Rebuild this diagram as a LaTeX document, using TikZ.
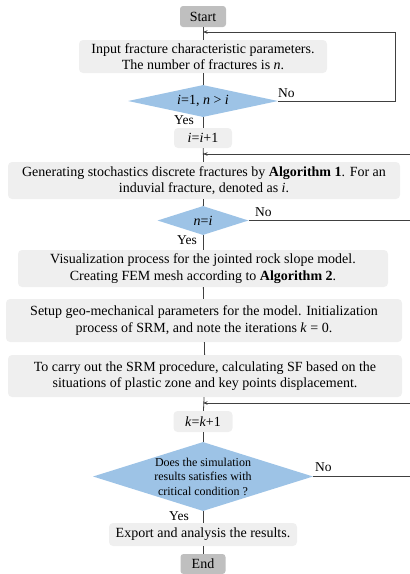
\documentclass[tikz,border=0pt]{standalone}
\usepackage{fontspec}
\setmainfont{Liberation Serif}
\usetikzlibrary{shapes.geometric,arrows.meta}
\definecolor{termfill}{HTML}{BFBFBF}
\definecolor{boxfill}{HTML}{EFEFEF}
\definecolor{decfill}{HTML}{9DC3E6}
\definecolor{linec}{HTML}{404040}
\tikzset{
  term/.style={draw=none,fill=termfill,rounded corners=3pt,inner sep=0pt,font=\rmfamily\fontsize{14}{16}\selectfont},
  procbox/.style={draw=none,fill=boxfill,rounded corners=4pt,inner sep=0pt,align=center,font=\rmfamily\fontsize{14}{16.3}\selectfont},
  decision/.style={diamond,draw=none,fill=decfill,inner sep=0pt,align=center},
  conn/.style={draw=linec,line width=0.8pt},
  arr/.style={conn,-{Stealth[length=4.5pt,width=3.5pt]}},
  lbl/.style={inner sep=0pt,font=\rmfamily\fontsize{13.5}{15}\selectfont}
}
\begin{document}
\begin{tikzpicture}[x=1pt,y=-1pt]
\useasboundingbox (0,0) rectangle (410,574);
\node[term,minimum width=46pt,minimum height=21pt] (start) at (203,16.5) {Start};
\node[procbox,minimum width=248pt,minimum height=33pt] (b1) at (203,56.5) {Input fracture characteristic parameters.\\The number of fractures is \textit{n}.};
\node[decision,minimum width=150pt,minimum height=32pt,aspect=4.7,font=\rmfamily\fontsize{14}{16}\selectfont] (d1) at (203,101) {\textit{i}=1, \textit{n} {\textgreater} \textit{i}};
\node[procbox,minimum width=58pt,minimum height=20pt] (i1) at (203,138) {\textit{i}=\textit{i}+1};
\node[procbox,minimum width=392pt,minimum height=37pt] (b2) at (204,180.5) {Generating stochastics discrete fractures by \textbf{Algorithm 1}. For an\\induvial fracture, denoted as \textit{i}.};
\node[decision,minimum width=91pt,minimum height=29pt,aspect=3.1,font=\rmfamily\fontsize{14}{16}\selectfont] (d2) at (203,220.5) {\textit{n}=\textit{i}};
\node[procbox,minimum width=370pt,minimum height=37pt] (b3) at (203,268.5) {Visualization process for the jointed rock slope model.\\Creating FEM mesh according to \textbf{Algorithm 2}.};
\node[procbox,minimum width=396pt,minimum height=43pt] (b4) at (204,320.5) {Setup geo-mechanical parameters for the model. Initialization\\process of SRM, and note the iterations \textit{k} = 0.};
\node[procbox,minimum width=394pt,minimum height=42pt] (b5) at (205,376) {To carry out the SRM procedure, calculating SF based on the\\situations of plastic zone and key points displacement.};
\node[procbox,minimum width=59pt,minimum height=21pt] (k1) at (203,421.5) {\textit{k}=\textit{k}+1};
\node[decision,minimum width=220pt,minimum height=69pt,aspect=3.2,font=\rmfamily\fontsize{12}{14.5}\selectfont] (d3) at (203,476.5) {Does the simulation\\results satisfies with\\critical condition ?};
\node[procbox,minimum width=188pt,minimum height=23pt] (b6) at (203,534.5) {Export and analysis the results.};
\node[term,minimum width=45pt,minimum height=20pt] (end) at (203,564) {End};
% junction points
\coordinate (j1) at (203,32);
\coordinate (j2) at (203,154);
\coordinate (j3) at (203,403);
\coordinate (r1) at (395,32);
\coordinate (e2) at (410,154);
\coordinate (e3) at (410,220.5);
\coordinate (e4) at (410,403);
\coordinate (e5) at (410,476.5);
% spine
\draw[conn] (start) -- (b1);
\draw[conn] (b1) -- (d1);
\draw[conn] (d1) -- (i1);
\draw[conn] (i1) -- (b2);
\draw[conn] (b2) -- (d2);
\draw[conn] (d2) -- (b3);
\draw[conn] (b3) -- (b4);
\draw[conn] (b4) -- (b5);
\draw[conn] (b5) -- (k1);
\draw[conn] (k1) -- (d3);
\draw[conn] (d3) -- (b6);
\draw[conn] (b6) -- (end);
% loops
\draw[arr] (d1.east) -| (r1) -- (j1);
\draw[arr] (e2) -- (j2);
\draw[conn] (d2.east) -- (e3);
\draw[arr] (e4) -- (j3);
\draw[conn] (d3.east) -- (e5);
% labels
\node[lbl,anchor=base west] (no1) at (278,97) {No};
\node[lbl,anchor=base east] (yes1) at (194,124) {Yes};
\node[lbl,anchor=base west] (no2) at (255,216.5) {No};
\node[lbl,anchor=base east] (yes2) at (197,244) {Yes};
\node[lbl,anchor=base west] (no3) at (315,471.5) {No};
\node[lbl,anchor=base east] (yes3) at (189,520) {Yes};
\end{tikzpicture}
\end{document}
